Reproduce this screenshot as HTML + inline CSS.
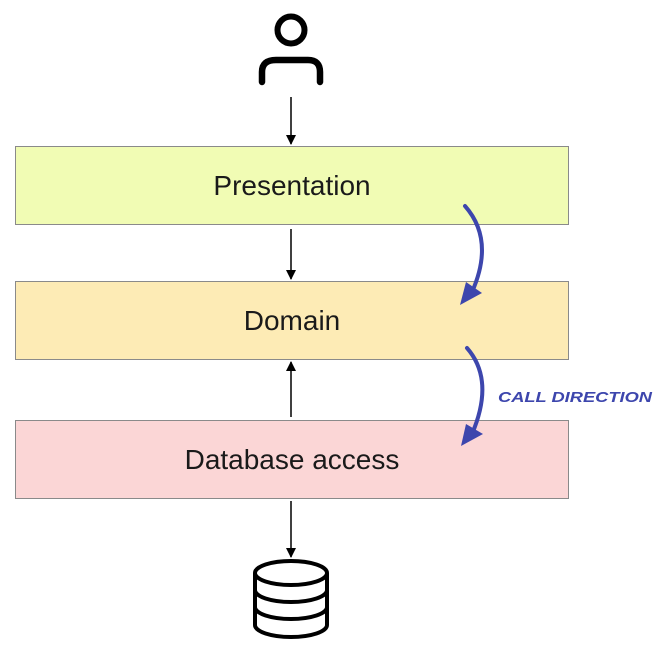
<!DOCTYPE html>
<html><head><style>
body{margin:0;width:658px;height:654px;background:#fff;overflow:hidden;position:relative;font-family:"Liberation Sans",sans-serif}
.b{position:absolute;left:15px;width:554px;height:79px;border:1.5px solid #8a8a8a;box-sizing:border-box;display:flex;align-items:center;justify-content:center;font-size:28px;color:#1a1a1a}
</style></head><body>
<div class="b" style="top:146px;background:#f1fcb4">Presentation</div>
<div class="b" style="top:281px;background:#fdebb5">Domain</div>
<div class="b" style="top:420px;background:#fbd6d6">Database access</div>
<svg width="658" height="654" style="position:absolute;left:0;top:0">
<defs><marker id="a" markerWidth="10" markerHeight="10" refX="9" refY="5" orient="auto" markerUnits="userSpaceOnUse"><path d="M0,0 L10,5 L0,10 z" fill="#000"/></marker></defs>
<circle cx="291" cy="30" r="13.5" fill="none" stroke="#000" stroke-width="6"/>
<path d="M262,82 V72 Q262,60 276,60 H308 Q320,60 320,72 V82" fill="none" stroke="#000" stroke-width="6.5" stroke-linecap="round"/>
<g stroke="#000" stroke-width="1.5">
<line x1="291" y1="97" x2="291" y2="144" marker-end="url(#a)"/>
<line x1="291" y1="229" x2="291" y2="279" marker-end="url(#a)"/>
<line x1="291" y1="417" x2="291" y2="362" marker-end="url(#a)"/>
<line x1="291" y1="501" x2="291" y2="557" marker-end="url(#a)"/>
</g>
<g fill="none" stroke="#000" stroke-width="4">
<ellipse cx="291" cy="573" rx="36" ry="12"/>
<path d="M255,573 V625 A36,12 0 0 0 327,625 V573"/>
<path d="M255,590 A36,12 0 0 0 327,590"/>
<path d="M255,607 A36,12 0 0 0 327,607"/>
</g>
<g fill="none" stroke="#3d46ad" stroke-width="4" stroke-linecap="round">
<path d="M465,206 Q495,240 472,292"/>
<path d="M467,348 Q495,380 472,434"/>
</g>
<g fill="#3d46ad">
<path d="M460,305 L466,282 L482,293 z"/>
<path d="M461,446 L466,424 L483,434 z"/>
</g>
<text x="498" y="402" font-family="Liberation Sans,sans-serif" font-size="15" font-weight="bold" font-style="italic" fill="#3d46ad" textLength="154" lengthAdjust="spacingAndGlyphs">CALL DIRECTION</text>
</svg>
</body></html>
